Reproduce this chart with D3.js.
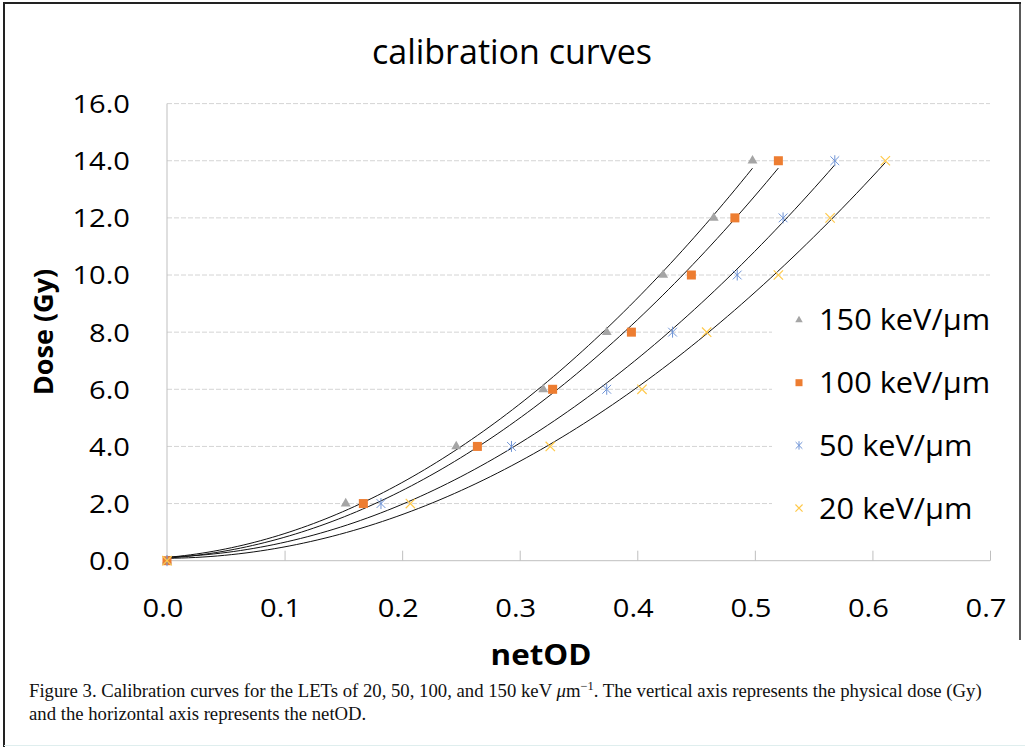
<!DOCTYPE html>
<html>
<head>
<meta charset="utf-8">
<script src="https://cdn.jsdelivr.net/npm/d3@7/dist/d3.min.js"></script>
<style>
  html, body { margin: 0; padding: 0; background: #fff; }
  svg { display: block; }
</style>
</head>
<body>
<svg id="chart" width="1025" height="747"></svg>
<script>
// Dose levels (Gy) shared by every calibration series
const doseGy = [0, 2, 4, 6, 8, 10, 12, 14];

// Measured netOD for each LET
const netOD150 = [0, 0.152, 0.246, 0.320, 0.374, 0.422, 0.465, 0.498];
const netOD100 = [0, 0.167, 0.264, 0.328, 0.395, 0.446, 0.483, 0.520];
const netOD50  = [0, 0.182, 0.293, 0.374, 0.430, 0.485, 0.524, 0.568];
const netOD20  = [0, 0.207, 0.326, 0.404, 0.459, 0.520, 0.564, 0.611];

const seriesNames = ["150 keV/\u00b5m", "100 keV/\u00b5m", "50 keV/\u00b5m", "20 keV/\u00b5m"];
const seriesKeys  = ["tri", "sq", "star", "x"];

const xTicks = [0, 0.1, 0.2, 0.3, 0.4, 0.5, 0.6, 0.7];
const yTicks = [0, 2, 4, 6, 8, 10, 12, 14, 16];

const titleText = "calibration curves";
const xTitle = "netOD";
const yTitle = "Dose (Gy)";

const series = [netOD150, netOD100, netOD50, netOD20].map((xs, i) => ({
  name: seriesNames[i],
  key: seriesKeys[i],
  points: xs.map((x, j) => ({ x, y: doseGy[j] }))
}));

const colors = { tri: "#a5a5a5", sq: "#ed7d31", star: "#6f94d6", x: "#ffc94a" };

const svg = d3.select("#chart");
const W = 1025, H = 747;
const SX = 1.12;              // horizontal stretch of the sans-serif labels
const SANS = "'Open Sans', 'Noto Sans', sans-serif";

const x = d3.scaleLinear().domain([0, 0.7]).range([167, 990]);
const y = d3.scaleLinear().domain([0, 16]).range([560.7, 103.6]);

// outer frame
svg.append("line").attr("x1", 4).attr("x2", 4).attr("y1", 3).attr("y2", H)
  .attr("stroke", "#222").attr("stroke-width", 2);
svg.append("line").attr("x1", 3).attr("x2", 1021).attr("y1", 3).attr("y2", 3)
  .attr("stroke", "#222").attr("stroke-width", 2);
svg.append("line").attr("x1", 1020).attr("x2", 1020).attr("y1", 3).attr("y2", 640)
  .attr("stroke", "#222").attr("stroke-width", 1.5);
svg.append("line").attr("x1", 4).attr("x2", W).attr("y1", 745.5).attr("y2", 745.5)
  .attr("stroke", "#dfeeee").attr("stroke-width", 1);

function label(parent, px, py, text, opts) {
  const sx = opts.sx || SX;
  const g = parent.append("g").attr("transform", opts.rotate
    ? `translate(${px},${py}) rotate(${opts.rotate}) scale(${sx},1)`
    : `translate(${px},${py}) scale(${sx},1)`);
  const t = g.append("text")
    .attr("font-family", opts.family || SANS)
    .attr("font-size", opts.size)
    .attr("font-weight", opts.weight || "normal")
    .attr("text-anchor", opts.anchor || "start")
    .attr("fill", opts.fill || "#000")
    .text(text);
  if (opts.dy) t.attr("dy", opts.dy);
  return t;
}

// title
label(svg, 512, 64, titleText, { size: 34, anchor: "middle", sx: 1 });

// horizontal gridlines
const grid = svg.append("g");
grid.selectAll("line").data(yTicks.filter(d => d > 0)).join("line")
  .attr("x1", x(0)).attr("x2", x(0.7))
  .attr("y1", d => y(d)).attr("y2", d => y(d))
  .attr("stroke", "#d4d4d4").attr("stroke-width", 1)
  .attr("stroke-dasharray", "5,2");

// axes
const xAxis = d3.axisBottom(x).tickValues(xTicks.slice(1)).tickSize(-10).tickFormat("");
const gx = svg.append("g").attr("transform", `translate(0,${y(0)})`).call(xAxis);
gx.select(".domain").attr("stroke", "#bfbfbf").attr("d", `M${x(0)},0H${x(0.7)}`);
gx.selectAll(".tick line").attr("stroke", "#bfbfbf");

svg.append("line").attr("x1", x(0)).attr("x2", x(0))
  .attr("y1", y(16)).attr("y2", y(0)).attr("stroke", "#bfbfbf");

xTicks.forEach(v => label(svg, x(v) - 4, 617, v.toFixed(1), { size: 26, anchor: "middle" }));
yTicks.forEach(v => label(svg, 130, y(v), v.toFixed(1), { size: 26, anchor: "end", dy: "0.36em" }));

label(svg, 541, 665, xTitle, { size: 28, weight: "bold", anchor: "middle" });
label(svg, 53, 332, yTitle, { size: 27, weight: "bold", anchor: "middle", rotate: -90, sx: 1 });

// least-squares quadratic trendline for each series
function quadFit(pts) {
  const S = [0, 0, 0, 0, 0], T = [0, 0, 0];
  pts.forEach(p => {
    let xp = 1;
    for (let k = 0; k < 5; k++) { S[k] += xp; if (k < 3) T[k] += xp * p.y; xp *= p.x; }
  });
  const A = [[S[0], S[1], S[2], T[0]], [S[1], S[2], S[3], T[1]], [S[2], S[3], S[4], T[2]]];
  for (let i = 0; i < 3; i++) {
    for (let r = i + 1; r < 3; r++) {
      const f = A[r][i] / A[i][i];
      for (let c = i; c < 4; c++) A[r][c] -= f * A[i][c];
    }
  }
  const c = [0, 0, 0];
  for (let i = 2; i >= 0; i--) {
    let s = A[i][3];
    for (let k = i + 1; k < 3; k++) s -= A[i][k] * c[k];
    c[i] = s / A[i][i];
  }
  return c;
}

const line = d3.line().x(d => x(d[0])).y(d => y(d[1]));
const trends = svg.append("g");
series.forEach(s => {
  const c = quadFit(s.points);
  const xmax = d3.max(s.points, p => p.x);
  const samples = d3.range(0, 101).map(i => {
    const xv = xmax * i / 100;
    return [xv, c[0] + c[1] * xv + c[2] * xv * xv];
  });
  trends.append("path").attr("d", line(samples))
    .attr("fill", "none").attr("stroke", "#111").attr("stroke-width", 1);
});

// marker drawing
function drawMarker(g, key, cx, cy, r) {
  if (key === "tri") {
    g.append("path").attr("d", d3.symbol(d3.symbolTriangle, r * r * 1.7)())
      .attr("transform", `translate(${cx},${cy})`).attr("fill", colors.tri);
  } else if (key === "sq") {
    g.append("rect").attr("x", cx - r).attr("y", cy - r).attr("width", 2 * r).attr("height", 2 * r)
      .attr("fill", colors.sq);
  } else if (key === "star") {
    const a = r * 0.8;
    g.append("path")
      .attr("d", `M${cx},${cy - r}V${cy + r}M${cx - a},${cy - a}L${cx + a},${cy + a}M${cx - a},${cy + a}L${cx + a},${cy - a}`)
      .attr("stroke", colors.star).attr("stroke-width", 1).attr("fill", "none");
  } else {
    const a = r * 0.85;
    g.append("path")
      .attr("d", `M${cx - a},${cy - a}L${cx + a},${cy + a}M${cx - a},${cy + a}L${cx + a},${cy - a}`)
      .attr("stroke", colors.x).attr("stroke-width", 1.2).attr("fill", "none");
  }
}

const marks = svg.append("g");
series.forEach(s => {
  s.points.forEach(p => {
    drawMarker(marks, s.key, x(p.x), y(p.y), s.key === "tri" ? 5 : (s.key === "sq" ? 4.5 : 5.5));
  });
});

// legend
const lg = svg.append("g");
lg.append("rect").attr("x", 772).attr("y", 292).attr("width", 230).attr("height", 244).attr("fill", "#fff");
series.forEach((s, i) => {
  const cy = 320 + i * 62.7;
  drawMarker(lg, s.key, 799, cy, s.key === "tri" ? 3.8 : (s.key === "sq" ? 3.5 : 4.2));
  label(lg, 819, cy, s.name, { size: 29, dy: "0.36em", sx: 1.06 });
});

// caption
const cap = svg.append("g").attr("transform", "translate(29,0) scale(1.04,1)")
  .attr("font-family", "'Liberation Serif', 'DejaVu Serif', serif")
  .attr("font-size", 18).attr("fill", "#111");
const c1 = cap.append("text").attr("x", 0).attr("y", 697);
c1.append("tspan").text("Figure 3. Calibration curves for the LETs of 20, 50, 100, and 150 keV ");
c1.append("tspan").attr("font-style", "italic").text("\u03bc");
c1.append("tspan").text("m");
c1.append("tspan").attr("dy", -7).attr("font-size", 12).text("\u22121");
c1.append("tspan").attr("dy", 7).text(". The vertical axis represents the physical dose (Gy)");
cap.append("text").attr("x", 0).attr("y", 720).text("and the horizontal axis represents the netOD.");
</script>
</body>
</html>
